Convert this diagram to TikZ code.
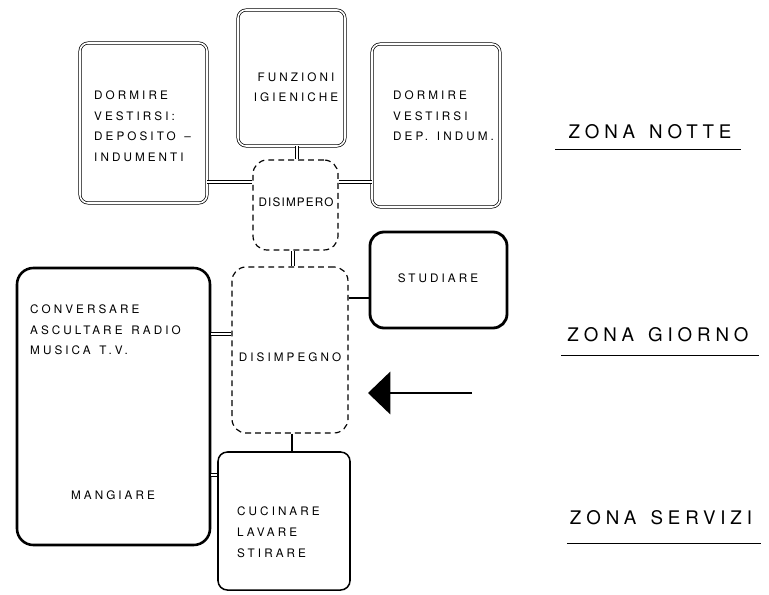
\documentclass[tikz,border=0pt]{standalone}
\usepackage{fontspec}
\usetikzlibrary{shapes,arrows.meta,positioning,calc}
\newfontfamily\hand[LetterSpace=26,WordSpace=1.8]{TeX Gyre Heros}
\newfontfamily\handtight[LetterSpace=10]{TeX Gyre Heros}
\newfontfamily\zone[LetterSpace=26,WordSpace=1.4]{TeX Gyre Heros}
\tikzset{
  >=Stealth,
  room/.style={draw,rounded corners=7pt,double,double distance=1.4pt,line width=0.6pt,inner sep=0pt},
  hall/.style={draw,rounded corners=12pt,dash pattern=on 5pt off 3.5pt,line width=1pt,inner sep=0pt},
  heavy/.style={draw,rounded corners=12pt,line width=2.4pt,inner sep=0pt},
  plain/.style={draw,rounded corners=8pt,line width=1.3pt,inner sep=0pt},
  txt/.style={font=\hand\fontsize{10}{17.5}\selectfont,align=left,inner sep=0pt},
  zonetxt/.style={font=\zone\fontsize{16}{18}\selectfont,inner sep=0pt},
  duct/.style={draw=black,double=white,double distance=1.6pt,line width=0.7pt},
  wire/.style={line width=1.2pt},
  uline/.style={line width=1pt}
}
\begin{document}
\begin{tikzpicture}[x=0.03cm,y=-0.03cm]
\useasboundingbox (0,0) rectangle (769,594);
% zona notte
\node[room,minimum width=3.81cm,minimum height=4.8cm](dorm1) at (143.5,123){};
\node[room,minimum width=3.21cm,minimum height=4.08cm](igien) at (291.5,78){};
\node[room,minimum width=3.84cm,minimum height=4.89cm](dorm2) at (436,125.5){};
\node[hall,minimum width=2.55cm,minimum height=2.7cm](disn) at (295.5,205){};
% zona giorno
\node[heavy,minimum width=4.11cm,minimum height=2.88cm](stud) at (438.5,280){};
\node[hall,minimum width=3.48cm,minimum height=4.98cm](disg) at (290,350){};
\node[heavy,rounded corners=14pt,line width=2.2pt,minimum width=5.79cm,minimum height=8.31cm](sogg) at (113.5,406.5){};
% zona servizi
\node[plain,minimum width=3.96cm,minimum height=4.14cm](cuc) at (284,521){};
% texts
\node[txt,anchor=north west] at (94,91){DORMIRE\\VESTIRSI:\\DEPOSITO –\\INDUMENTI};
\node[txt,align=center] at (296,87){FUNZIONI\\IGIENICHE};
\node[txt,anchor=north west] at (393,91){DORMIRE\\VESTIRSI\\DEP. INDUM.};
\node[txt,font=\handtight\fontsize{10}{12}\selectfont] at (296,202){DISIMPERO};
\node[txt] at (438,278){STUDIARE};
\node[txt,anchor=north west] at (30,305){CONVERSARE\\ASCULTARE RADIO\\MUSICA T.V.};
\node[txt] at (290,357){DISIMPEGNO};
\node[txt] at (113,495){MANGIARE};
\node[txt,anchor=north west] at (237,507){CUCINARE\\LAVARE\\STIRARE};
% connectors
\draw[duct](igien.south -| 297,0)--(disn.north -| 297,0);
\draw[duct](dorm1.east |- 0,182)--(disn.west |- 0,182);
\draw[duct](disn.east |- 0,182)--(dorm2.west |- 0,182);
\draw[duct](disn.south -| 293,0)--(disg.north -| 293,0);
\draw[duct](sogg.east |- 0,334)--(disg.west |- 0,334);
\draw[wire](disg.east |- 0,298)--(stud.west |- 0,298);
\draw[wire](disg.south -| 292,0)--(cuc.north -| 292,0);
\draw[duct](sogg.east |- 0,475)--(cuc.west |- 0,475);
% entrance
\coordinate(entry) at (472,393);
\coordinate(door) at (368,393);
\draw[line width=2.4pt,-{Triangle[length=19pt,width=36pt]}](entry)--(door);
% zones
\node[zonetxt](znotte) at (650,132){ZONA NOTTE};
\draw[uline]($(znotte.south west)+(-13,10)$)--($(znotte.south east)+(9,10)$);
\node[zonetxt](zgiorno) at (658,335){ZONA GIORNO};
\draw[uline]($(zgiorno.south west)+(-6,13)$)--($(zgiorno.south east)+(10,13)$);
\node[zonetxt](zservizi) at (661,518){ZONA SERVIZI};
\draw[uline]($(zservizi.south west)+(-3,18)$)--($(zservizi.south east)+(9,18)$);
\end{tikzpicture}
\end{document}
